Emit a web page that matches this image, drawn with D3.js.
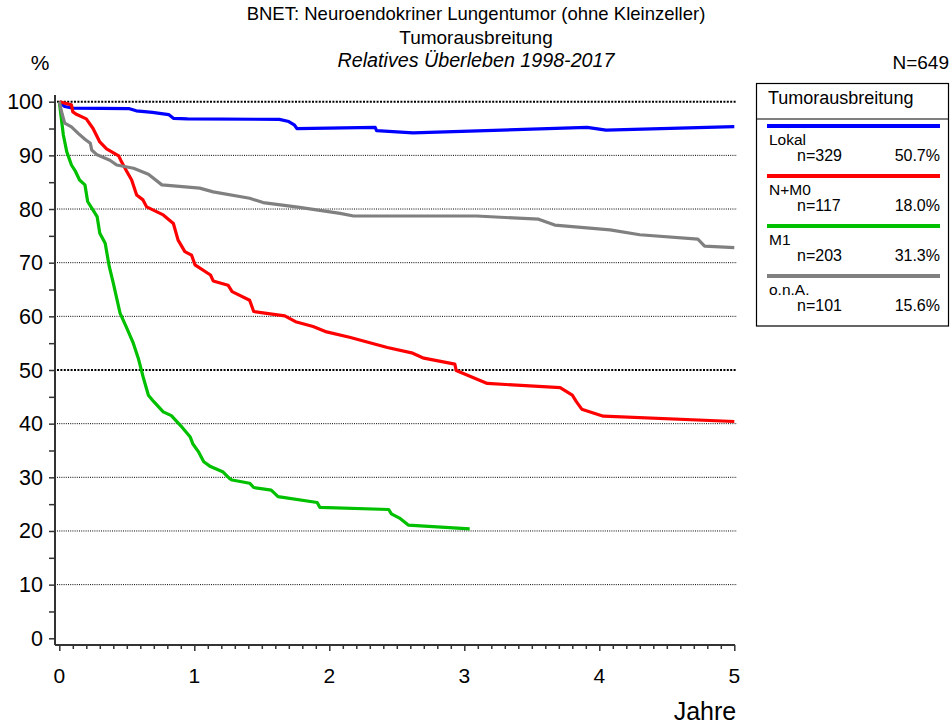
<!DOCTYPE html>
<html>
<head>
<meta charset="utf-8">
<script src="https://cdn.jsdelivr.net/npm/d3@7"></script>
<style>
  body { margin: 0; background: #fff; }
  svg { font-family: "Liberation Sans", Arial, sans-serif; }
</style>
</head>
<body>
<div id="chart"></div>
<script>
// survival curves, [years, percent]
const lokal = [[0,100],[0.04,99.1],[0.1,98.8],[0.52,98.7],[0.57,98.3],[0.69,98.0],[0.81,97.6],[0.845,96.9],[0.95,96.8],
  [1.63,96.7],[1.7,96.3],[1.74,95.7],[1.76,95.0],[2.34,95.2],[2.35,94.6],[2.62,94.2],[3.91,95.2],[4.05,94.7],[5.0,95.35]];
const nm0 = [[0,100],[0.09,99.4],[0.1,98.1],[0.13,97.6],[0.2,96.8],[0.25,95.0],[0.3,92.5],[0.35,91.2],[0.44,89.9],[0.455,89.1],
  [0.5,87.0],[0.536,85.4],[0.573,82.6],[0.62,81.7],[0.647,80.4],[0.77,78.9],[0.845,77.3],[0.88,74.2],[0.93,72.05],[0.98,71.4],
  [1.005,69.6],[1.12,67.7],[1.14,66.6],[1.25,65.8],[1.28,64.6],[1.41,63.0],[1.44,60.9],[1.67,60.1],[1.75,59.0],[1.88,58.1],
  [1.98,57.1],[2.15,56.1],[2.43,54.2],[2.61,53.2],[2.7,52.2],[2.93,51.1],[2.94,49.9],[3.17,47.5],[3.71,46.7],[3.8,45.3],
  [3.83,44.1],[3.87,42.7],[4.03,41.4],[5.0,40.4]];
const m1 = [[0,100],[0.03,93.8],[0.055,90.7],[0.09,88.2],[0.12,87.0],[0.15,85.4],[0.19,84.5],[0.21,81.4],[0.25,79.8],[0.28,78.6],
  [0.3,75.5],[0.34,73.6],[0.37,69.3],[0.4,66.2],[0.425,63.4],[0.45,60.6],[0.5,57.8],[0.548,55.0],[0.585,52.2],[0.62,48.8],
  [0.66,45.3],[0.7,44.1],[0.77,42.2],[0.83,41.5],[0.9,39.6],[0.97,37.5],[0.99,36.2],[1.03,34.8],[1.07,32.9],[1.12,32.0],
  [1.21,31.05],[1.26,29.8],[1.28,29.5],[1.41,28.9],[1.44,28.1],[1.57,27.6],[1.62,26.4],[1.91,25.3],[1.93,24.4],[2.44,24.0],
  [2.46,23.2],[2.52,22.4],[2.585,21.1],[3.04,20.4]];
const ona = [[0,100],[0.02,97.8],[0.04,96.0],[0.09,95.3],[0.14,94.1],[0.19,93.0],[0.23,92.25],[0.24,91.0],[0.28,90.1],[0.375,89.1],
  [0.425,88.2],[0.55,87.6],[0.66,86.5],[0.76,84.5],[1.04,83.9],[1.14,83.2],[1.41,82.0],[1.51,81.2],[1.78,80.3],[2.08,79.2],
  [2.18,78.7],[3.09,78.7],[3.55,78.1],[3.67,77.0],[4.08,76.1],[4.3,75.2],[4.73,74.4],[4.78,73.1],[5.0,72.8]];

const groups = ["Lokal", "N+M0", "M1", "o.n.A."];
const counts = ["n=329", "n=117", "n=203", "n=101"];
const shares = ["50.7%", "18.0%", "31.3%", "15.6%"];
const colors = ["#0000ff", "#ff0000", "#00c000", "#808080"];
const series = [lokal, nm0, m1, ona];

const yTicks = d3.range(0, 101, 10);
const xTicks = [0, 1, 2, 3, 4, 5];

const W = 951, H = 726;
const svg = d3.select("#chart").append("svg").attr("width", W).attr("height", H);

const x = d3.scaleLinear().domain([0, 5]).range([59.3, 734.3]);
const y = d3.scaleLinear().domain([0, 100]).range([638.3, 101.7]);

// titles
svg.append("text").attr("x", 476).attr("y", 20).attr("text-anchor", "middle")
  .attr("font-size", 18.5).text("BNET: Neuroendokriner Lungentumor (ohne Kleinzeller)");
svg.append("text").attr("x", 476).attr("y", 44).attr("text-anchor", "middle")
  .attr("font-size", 19).text("Tumorausbreitung");
svg.append("text").attr("x", 476).attr("y", 67).attr("text-anchor", "middle")
  .attr("font-size", 19.7).attr("font-style", "italic").text("Relatives Überleben 1998-2017");
svg.append("text").attr("x", 40).attr("y", 70).attr("text-anchor", "middle")
  .attr("font-size", 21).text("%");
svg.append("text").attr("x", 949).attr("y", 69).attr("text-anchor", "end")
  .attr("font-size", 19).text("N=649");

// grid, dotted; 100 and 50 heavier
svg.append("g").selectAll("line").data(yTicks.filter(d => d > 0)).join("line")
  .attr("x1", 57).attr("x2", 737)
  .attr("y1", d => y(d)).attr("y2", d => y(d))
  .attr("stroke", "#000")
  .attr("stroke-width", d => (d === 100 || d === 50) ? 2 : 1)
  .attr("stroke-dasharray", d => (d === 100 || d === 50) ? "2,1.4" : "1,1.2");

// axes
const yAxis = d3.axisLeft(y).tickValues(d3.range(0, 101, 5)).tickSize(6).tickFormat("");
svg.append("g").attr("transform", "translate(55,0)").call(yAxis)
  .call(g => g.select(".domain").attr("d", "M0,95V645").attr("stroke", "#333").attr("stroke-width", 2))
  .call(g => g.selectAll(".tick line").attr("stroke", "#333").attr("stroke-width", 1.5));
svg.append("g").selectAll("text").data(yTicks).join("text")
  .attr("x", 43).attr("y", d => y(d) + 7.5).attr("text-anchor", "end")
  .attr("font-size", 21.5).text(d => d);

const xAxis = d3.axisBottom(x).tickValues(d3.range(0, 51).map(d => d / 10)).tickSize(4).tickFormat("");
svg.append("g").attr("transform", "translate(0,645)").call(xAxis)
  .call(g => g.select(".domain").attr("d", "M55,0H735").attr("stroke", "#333").attr("stroke-width", 2))
  .call(g => g.selectAll(".tick line").attr("stroke", "#333").attr("stroke-width", 1.5)
    .attr("y2", d => Math.abs(d - Math.round(d)) < 1e-9 ? 6 : 4));
svg.append("g").selectAll("text").data(xTicks).join("text")
  .attr("x", d => x(d)).attr("y", 683).attr("text-anchor", "middle")
  .attr("font-size", 21).text(d => d);
svg.append("text").attr("x", 705).attr("y", 720).attr("text-anchor", "middle")
  .attr("font-size", 25).text("Jahre");

// curves
const line = d3.line().x(d => x(d[0])).y(d => y(d[1]));
svg.append("g").selectAll("path").data(series).join("path")
  .attr("d", line)
  .attr("fill", "none")
  .attr("stroke", (d, i) => colors[i])
  .attr("stroke-width", 3.2)
  .attr("stroke-linejoin", "round");

// legend
const lg = svg.append("g");
lg.append("rect").attr("x", 756.5).attr("y", 83.5).attr("width", 192).attr("height", 242.5)
  .attr("fill", "#fff").attr("stroke", "#000").attr("stroke-width", 1.2);
lg.append("text").attr("x", 768).attr("y", 104).attr("font-size", 18).text("Tumorausbreitung");
lg.append("line").attr("x1", 756.5).attr("x2", 948.5).attr("y1", 119).attr("y2", 119)
  .attr("stroke", "#000").attr("stroke-width", 1.2);
groups.forEach((g, i) => {
  const top = 126 + 50 * i;
  lg.append("line").attr("x1", 767).attr("x2", 940).attr("y1", top).attr("y2", top)
    .attr("stroke", colors[i]).attr("stroke-width", 4);
  lg.append("text").attr("x", 769).attr("y", top + 19).attr("font-size", 15.5).text(g);
  lg.append("text").attr("x", 797).attr("y", top + 34.5).attr("font-size", 16).text(counts[i]);
  lg.append("text").attr("x", 940).attr("y", top + 34.5).attr("text-anchor", "end").attr("font-size", 16).text(shares[i]);
});
</script>
</body>
</html>
